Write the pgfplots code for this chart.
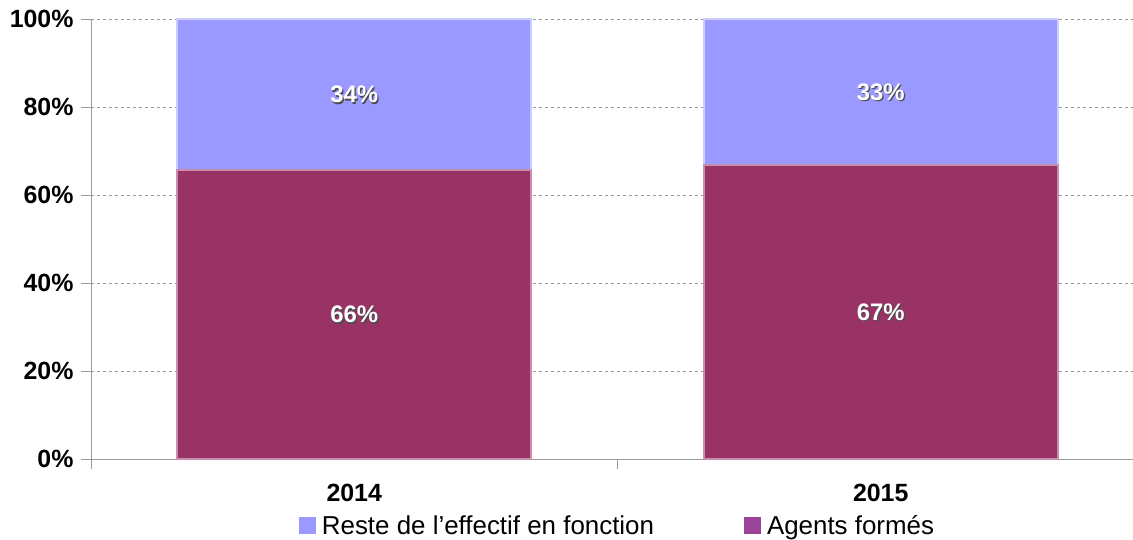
\documentclass[border=0pt]{standalone}
\usepackage{pgfplots}
\pgfplotsset{compat=1.18}
\usepackage{fontspec}
\setmainfont{Liberation Sans}

\definecolor{reste}{HTML}{9999FF}
\definecolor{agents}{HTML}{993366}
\definecolor{agentsleg}{HTML}{994499}

% white value label with a small dark shadow
\newcommand{\vlabel}[2]{%
  \node[text=black!70, xshift=1.2bp, yshift=-1.2bp, font=\fontsize{24}{28}\selectfont\bfseries] at (#1) {#2};
  \node[text=white, font=\fontsize{24}{28}\selectfont\bfseries] at (#1) {#2};
}

\begin{document}
\begin{tikzpicture}
\useasboundingbox (-91bp,-81bp) rectangle (1042bp,459bp);
\begin{axis}[
    scale only axis,
    width=1053bp, height=440bp,
    ybar stacked,
    bar width=0.672,
    xmin=-0.5, xmax=1.5,
    ymin=0, ymax=100,
    xtick={-0.5,0.5},
    xticklabels={,,},
    extra x ticks={0,1},
    extra x tick labels={2014,2015},
    extra x tick style={major tick length=0bp, tick style={draw=none}},
    xticklabel style={yshift=-22bp},
    ytick={0,20,40,60,80,100},
    yticklabels={0\%,20\%,40\%,60\%,80\%,100\%},
    yticklabel style={xshift=-4bp},
    axis x line*=bottom,
    axis y line*=left,
    axis line style={gray!80},
    tick align=outside,
    tick style={gray!80},
    major tick length=10bp,
    ymajorgrids=true,
    grid style={dashed, gray!80},
    ticklabel style={font=\fontsize{25}{29}\selectfont\bfseries},
    legend style={at={(0.5,-0.118)}, anchor=north, draw=none, fill=none,
        font=\fontsize{26}{30}\selectfont, legend columns=2,
        /tikz/every even column/.append style={column sep=88bp},
        /tikz/every odd column/.append style={column sep=4bp}},
    reverse legend,
]
\addplot[fill=agents, draw=agents!55!white, line width=2bp,
    legend image code/.code={\fill[agentsleg] (0bp,-7.5bp) rectangle (15bp,7.5bp);}]
    coordinates {(0,65.7) (1,66.8)};
\addlegendentry{Agents formés}
\addplot[fill=reste, draw=reste!50!white, line width=2bp,
    legend image code/.code={\fill[reste] (0bp,-7.5bp) rectangle (15bp,7.5bp);}]
    coordinates {(0,34.3) (1,33.2)};
\addlegendentry{Reste de l’effectif en fonction}
\coordinate (a) at (axis cs:0,82.8);
\coordinate (b) at (axis cs:1,83.4);
\coordinate (c) at (axis cs:0,32.8);
\coordinate (d) at (axis cs:1,33.4);
\end{axis}
\vlabel{a}{34\%}
\vlabel{b}{33\%}
\vlabel{c}{66\%}
\vlabel{d}{67\%}
\end{tikzpicture}
\end{document}
